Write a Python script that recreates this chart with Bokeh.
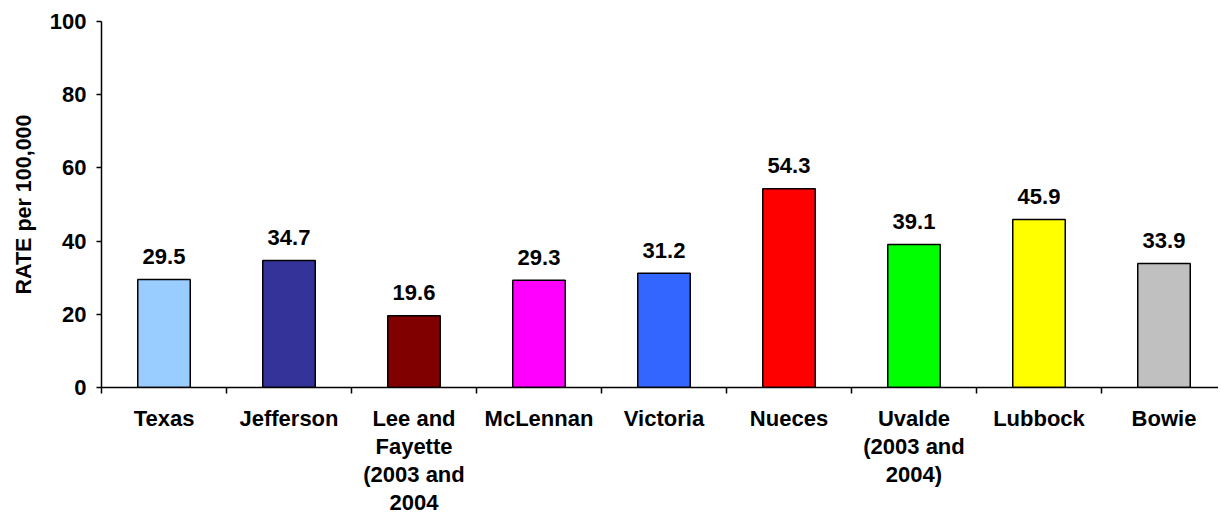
from bokeh.plotting import figure
from bokeh.models import FixedTicker, Range1d, ColumnDataSource
from bokeh.embed import file_html
from bokeh.resources import INLINE
from bokeh.core.properties import value

categories = ["Texas", "Jefferson", "Lee and\nFayette\n(2003 and\n2004", "McLennan", "Victoria",
              "Nueces", "Uvalde\n(2003 and\n2004)", "Lubbock", "Bowie"]
rates = [29.5, 34.7, 19.6, 29.3, 31.2, 54.3, 39.1, 45.9, 33.9]
colors = ["#99CCFF", "#333399", "#800000", "#FF00FF", "#3366FF",
          "#FF0000", "#00FF00", "#FFFF00", "#C0C0C0"]
y_ticks = [0, 20, 40, 60, 80, 100]

FONT = "Liberation Sans"
FS = "22px"

positions = list(range(1, len(categories) + 1))
boundaries = [i + 0.5 for i in range(0, len(categories) + 1)]
labels = [f"{v:.1f}" for v in rates]

src = ColumnDataSource(dict(x=positions, top=rates, color=colors, label=labels))

W, H, LEFT = 1218, 517, 101
p = figure(width=W, height=H, x_range=Range1d(0.5, 0.5 + (W - LEFT) / 125.0), y_range=Range1d(0, 100),
           output_backend="svg", toolbar_location=None,
           min_border_left=LEFT, min_border_top=21, min_border_right=0, min_border_bottom=0)
p.outline_line_color = None
p.background_fill_color = "white"

p.vbar(x="x", top="top", bottom=0, width=0.42, fill_color="color",
       line_color="black", line_width=1.5, source=src)
p.text(x="x", y="top", text="label", source=src, y_offset=-23,
       text_align="center", text_baseline="alphabetic",
       text_font=value(FONT), text_font_style="bold", text_font_size=FS, text_color="black")

p.xgrid.visible = False
p.ygrid.ticker = FixedTicker(ticks=[100])
p.ygrid.grid_line_color = "#808080"
p.ygrid.grid_line_width = 2

ya = p.yaxis[0]
ya.ticker = FixedTicker(ticks=y_ticks)
ya.axis_line_color = "black"
ya.axis_line_width = 1.5
ya.major_tick_in = 0
ya.major_tick_out = 5
ya.major_tick_line_width = 1.5
ya.minor_tick_out = 0
ya.minor_tick_in = 0
ya.major_label_standoff = 10
ya.major_label_text_font = FONT
ya.major_label_text_font_style = "bold"
ya.major_label_text_font_size = FS
ya.major_label_text_color = "black"
ya.axis_label = "RATE per 100,000"
ya.axis_label_standoff = 11
ya.axis_label_text_font = FONT
ya.axis_label_text_font_style = "bold"
ya.axis_label_text_font_size = "21.5px"
ya.axis_label_text_color = "black"

xa = p.xaxis[0]
xa.ticker = FixedTicker(ticks=positions, minor_ticks=boundaries)
xa.axis_line_color = "black"
xa.axis_line_width = 1.5
xa.major_tick_in = 0
xa.major_tick_out = 0
xa.minor_tick_in = 0
xa.minor_tick_out = 6
xa.minor_tick_line_color = "black"
xa.minor_tick_line_width = 1.5
xa.major_label_overrides = {pos: cat for pos, cat in zip(positions, categories)}
xa.major_label_standoff = 12
xa.major_label_text_font = FONT
xa.major_label_text_font_style = "bold"
xa.major_label_text_font_size = FS
xa.major_label_text_color = "black"
xa.major_label_text_line_height = 1.12

open("out.html", "w").write(file_html(p, INLINE))
